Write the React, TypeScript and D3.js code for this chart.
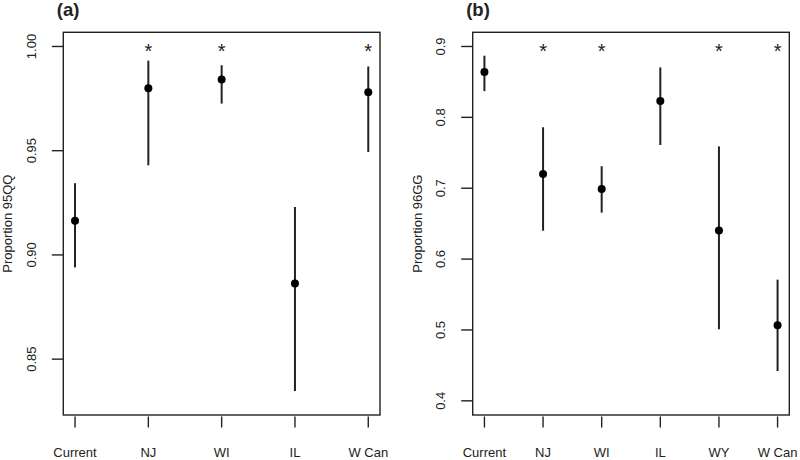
import React from "react";
import * as d3 from "d3";

const catsA = ["Current", "NJ", "WI", "IL", "W Can"];
const meanA = [0.9164, 0.980, 0.9842, 0.8863, 0.978];
const lowA = [0.894, 0.943, 0.9726, 0.8347, 0.9494];
const highA = [0.9344, 0.9932, 0.991, 0.923, 0.9904];
const starA = [false, true, true, false, true];
const ticksA = [0.85, 0.9, 0.95, 1.0];
const tickLabA = ["0.85", "0.90", "0.95", "1.00"];

const catsB = ["Current", "NJ", "WI", "IL", "WY", "W Can"];
const meanB = [0.864, 0.720, 0.699, 0.823, 0.6404, 0.5067];
const lowB = [0.837, 0.640, 0.6655, 0.761, 0.501, 0.442];
const highB = [0.887, 0.786, 0.731, 0.8705, 0.759, 0.571];
const starB = [false, true, true, false, true, true];
const ticksB = [0.4, 0.5, 0.6, 0.7, 0.8, 0.9];
const tickLabB = ["0.4", "0.5", "0.6", "0.7", "0.8", "0.9"];

const FONT = "'Liberation Sans', Arial, sans-serif";
const INK = "#222";

type PanelProps = {
  title: string;
  ylab: string;
  cats: string[];
  mean: number[];
  low: number[];
  high: number[];
  star: boolean[];
  ticks: number[];
  tickLabels: string[];
  yDomain: [number, number];
  starValue: number;
  left: number;
  right: number;
};

function Panel(p: PanelProps) {
  const top = 32.3;
  const bottom = 415;
  const n = p.cats.length;
  const ext = 0.04 * (n - 1);
  const x = d3.scaleLinear().domain([1 - ext, n + ext]).range([p.left, p.right]);
  const y = d3.scaleLinear().domain(p.yDomain).range([bottom, top]);
  const tickLen = 11.5;
  return (
    <g>
      <text x={p.left - 6.5} y={15.5} fontFamily={FONT} fontWeight="bold" fontSize={18.5} fill={INK}>
        {p.title}
      </text>
      <rect x={p.left} y={top} width={p.right - p.left} height={bottom - top} fill="none" stroke={INK} strokeWidth={1.4} />
      {p.ticks.map((t, i) => (
        <g key={"yt" + i}>
          <line x1={p.left - tickLen} x2={p.left} y1={y(t)} y2={y(t)} stroke={INK} strokeWidth={1.4} />
          <text
            transform={`translate(${p.left - 27.6},${y(t)}) rotate(-90)`}
            textAnchor="middle"
            fontFamily={FONT}
            fontSize={13}
            fill={INK}
          >
            {p.tickLabels[i]}
          </text>
        </g>
      ))}
      {p.cats.map((c, i) => (
        <g key={"xt" + i}>
          <line x1={x(i + 1)} x2={x(i + 1)} y1={bottom + 1.5} y2={bottom + tickLen + 1} stroke={INK} strokeWidth={1.4} />
          <text x={x(i + 1)} y={457.3} textAnchor="middle" fontFamily={FONT} fontSize={13} fill={INK}>
            {c}
          </text>
        </g>
      ))}
      <text
        transform={`translate(${p.left - 51},${(top + bottom) / 2}) rotate(-90)`}
        textAnchor="middle"
        fontFamily={FONT}
        fontSize={13}
        fill={INK}
      >
        {p.ylab}
      </text>
      {p.cats.map((c, i) => (
        <g key={"pt" + i}>
          <line x1={x(i + 1)} x2={x(i + 1)} y1={y(p.low[i])} y2={y(p.high[i])} stroke={INK} strokeWidth={2} />
          <circle cx={x(i + 1)} cy={y(p.mean[i])} r={4} fill="#000" />
          {p.star[i] && (
            <text x={x(i + 1)} y={y(p.starValue) + 11.5} textAnchor="middle" fontFamily={FONT} fontSize={20} fill={INK}>
              *
            </text>
          )}
        </g>
      ))}
    </g>
  );
}

export default function App() {
  return (
    <svg
      width={800}
      height={460}
      style={{ position: "absolute", left: 0, top: 0, background: "#fff" }}
    >
      <rect x={0} y={0} width={800} height={460} fill="#fff" />
      <Panel
        title="(a)"
        ylab="Proportion 95QQ"
        cats={catsA}
        mean={meanA}
        low={lowA}
        high={highA}
        star={starA}
        ticks={ticksA}
        tickLabels={tickLabA}
        yDomain={[0.8232, 1.0068]}
        starValue={1.0}
        left={63.3}
        right={380}
      />
      <Panel
        title="(b)"
        ylab="Proportion 96GG"
        cats={catsB}
        mean={meanB}
        low={lowB}
        high={highB}
        star={starB}
        ticks={ticksB}
        tickLabels={tickLabB}
        yDomain={[0.38, 0.92]}
        starValue={0.9}
        left={472.7}
        right={789.3}
      />
    </svg>
  );
}
